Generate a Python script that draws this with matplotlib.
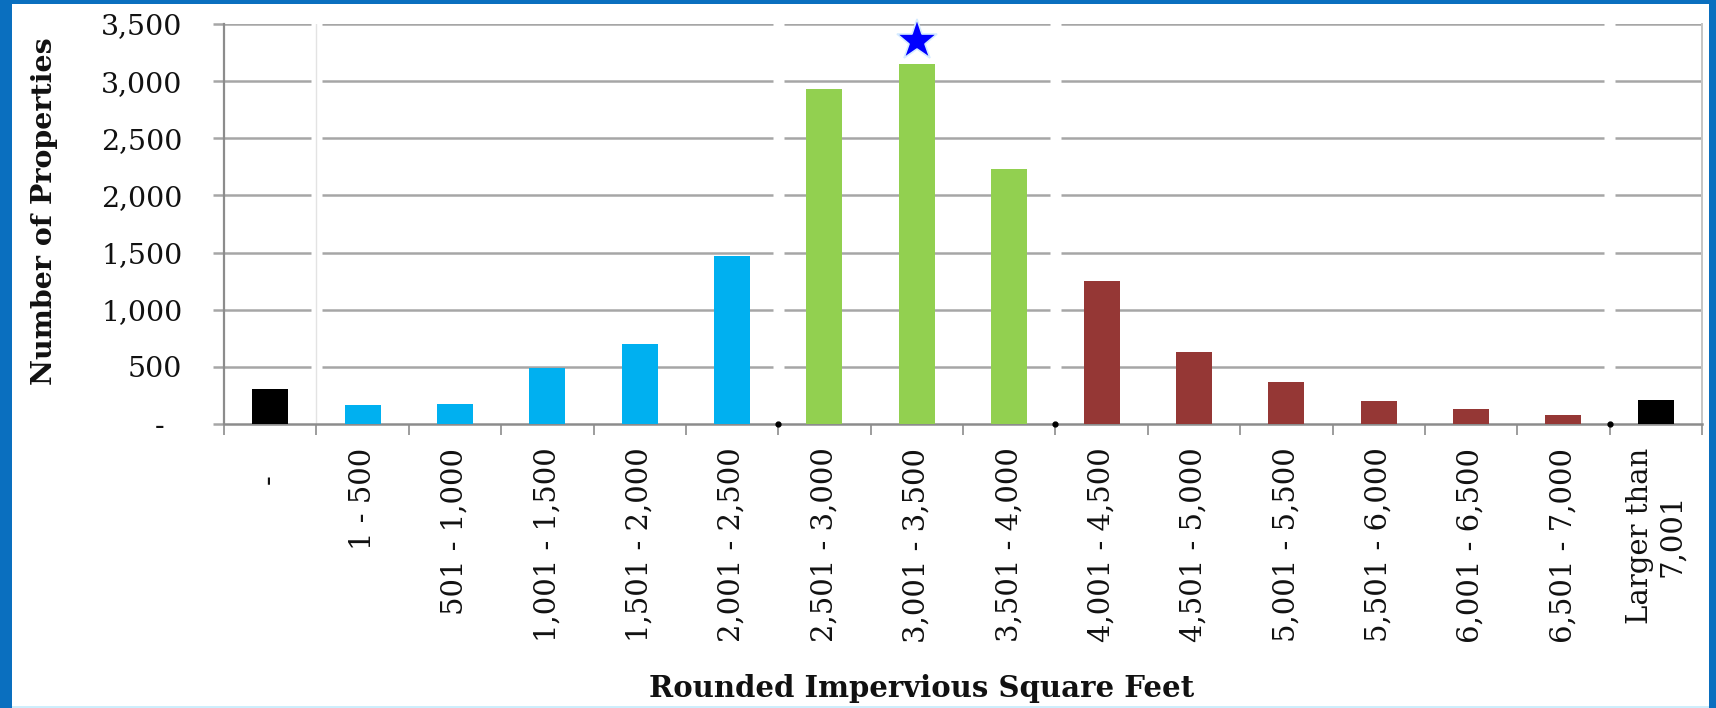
import matplotlib
matplotlib.use("Agg")
import matplotlib.pyplot as plt
from matplotlib.patches import Rectangle

# ---------------- data ----------------
categories = ["-   ", "1 - 500", "501 - 1,000", "1,001 - 1,500", "1,501 - 2,000",
              "2,001 - 2,500", "2,501 - 3,000", "3,001 - 3,500", "3,501 - 4,000",
              "4,001 - 4,500", "4,501 - 5,000", "5,001 - 5,500", "5,501 - 6,000",
              "6,001 - 6,500", "6,501 - 7,000", "Larger than\n7,001"]
counts = [310, 165, 175, 490, 700, 1470, 2930, 3150, 2235,
          1250, 630, 365, 205, 135, 75, 210]
groups = ["none", "small", "small", "small", "small", "small",
          "mid", "mid", "mid",
          "large", "large", "large", "large", "large", "large", "none"]
y_ticks = [0, 500, 1000, 1500, 2000, 2500, 3000, 3500]
y_tick_labels = ["-  ", "500", "1,000", "1,500", "2,000", "2,500", "3,000", "3,500"]
highlight_index = 7
x_title = "Rounded Impervious Square Feet"
y_title = "Number of Properties"

# ---------------- style ----------------
group_colors = {"none": "#000000", "small": "#00B0F0",
                "mid": "#92D050", "large": "#953735"}
grid_color = "#A6A6A6"
FONT = "DejaVu Serif"
plt.rcParams["font.family"] = [FONT]

W, H = 1716, 708
fig = plt.figure(figsize=(W / 100, H / 100), dpi=100)
fig.patch.set_facecolor("#0a6fbf")
fig.add_artist(Rectangle((12 / W, 2 / H), (1709 - 12) / W, (704 - 2) / H,
                         transform=fig.transFigure, facecolor="white",
                         edgecolor="none", zorder=0))
fig.add_artist(Rectangle((12 / W, 0), (1709 - 12) / W, 2 / H,
                         transform=fig.transFigure, facecolor="#cdeefc",
                         edgecolor="none", zorder=0))

left, right, top, bottom = 224, 1702, 24, 424
ax = fig.add_axes([left / W, 1 - bottom / H, (right - left) / W, (bottom - top) / H])
ax.set_facecolor("none")

n = len(categories)
x = list(range(n))
colors = [group_colors[g] for g in groups]
ax.bar(x, counts, width=0.39, color=colors, zorder=3)

ax.set_xlim(-0.5, n - 0.5)
ax.set_ylim(0, 3500)

# gridlines with small breaks at the group boundaries
breaks = [0.5, 5.5, 8.5, 14.5]
gap = 0.06
starts = [-0.5] + [b + gap for b in breaks]
ends = [b - gap for b in breaks] + [n - 0.5]
for yv in y_ticks[1:]:
    for s, e in zip(starts, ends):
        ax.hlines(yv, s, e, color=grid_color, lw=1.8, zorder=1)

ax.axvline(0.5, color="#E3E3E3", lw=1.0, zorder=1)

# y axis
ax.set_yticks(y_ticks)
ax.set_yticklabels(y_tick_labels, fontsize=20.5, color="#111111")
ax.tick_params(axis="y", length=8, width=1.8, color=grid_color, pad=22)

# x axis: labels at centres, tick marks at boundaries
ax.set_xticks(x)
ax.set_xticklabels(categories, rotation=90, fontsize=21, va="top", ha="center",
                   multialignment="center", color="#111111")
ax.tick_params(axis="x", which="major", length=0, pad=17)
ax.set_xticks([i - 0.5 for i in range(n + 1)], minor=True)
ax.tick_params(axis="x", which="minor", length=8, width=1.2, color="#8C8C8C",
               direction="out")

ax.spines["top"].set_visible(False)
ax.spines["left"].set_color("#8C8C8C")
ax.spines["left"].set_linewidth(1.6)
ax.spines["bottom"].set_color("#8C8C8C")
ax.spines["bottom"].set_linewidth(1.8)
ax.spines["right"].set_color("#C4C4C4")
ax.spines["right"].set_linewidth(1.4)

# small black dots on the axis at the group boundaries
ax.plot([5.5, 8.5, 14.5], [0, 0, 0], ls="none", marker="o", ms=3.5,
        color="black", zorder=5, clip_on=False)

# highlight star above the tallest bar
ax.plot(highlight_index, counts[highlight_index] + 205, marker="*", ms=31,
        color="#0000FF", mec="#d6ecff", mew=1.2, clip_on=False, zorder=6)

fig.text(922 / W, 1 - 697 / H, x_title, fontsize=21, fontweight="bold",
         ha="center", va="baseline", family=FONT, color="#111111")
fig.text(45 / W, 1 - 211 / H, y_title, fontsize=20.5, fontweight="bold",
         rotation=90, ha="center", va="center", family=FONT, color="#111111")

fig.savefig("out.png", dpi=100, facecolor=fig.get_facecolor())
